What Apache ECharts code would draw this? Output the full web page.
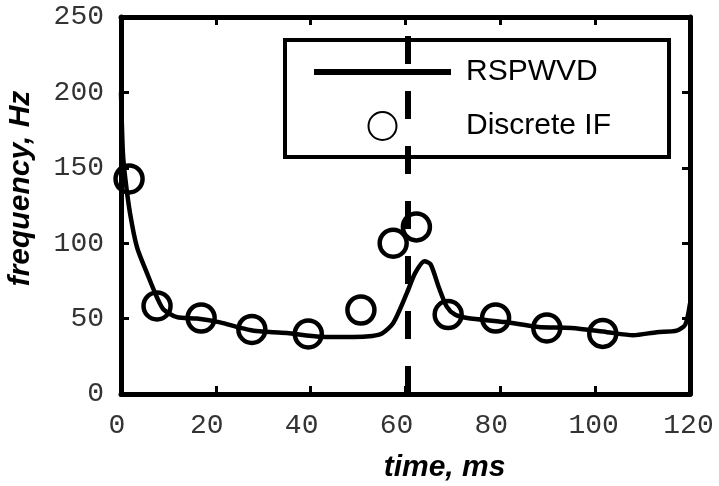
<!DOCTYPE html>
<html>
<head>
<meta charset="utf-8">
<script src="https://cdn.jsdelivr.net/npm/echarts@6/dist/echarts.min.js"></script>
<style>html,body{margin:0;padding:0;background:#fff}#c{width:719px;height:486px}</style>
</head>
<body>
<div id="c"></div>
<script>
// RSPWVD curve: [time ms, frequency Hz]
var rspwvdTime = [0, 0.4, 0.9, 1.9, 3.4, 5.5, 7.6, 9, 11.8, 16, 20.9, 25, 28, 32, 35, 42, 49, 53, 55, 57.4, 60.3, 62, 64, 65.3, 67, 68.7, 70.5, 73, 81, 88, 95, 102.5, 108, 113, 117.2, 119, 120];
var rspwvdFreq = [200, 160, 143, 120, 97, 80, 64, 56, 51, 50, 47.5, 44, 42, 41, 40.5, 38, 37.8, 38.5, 40, 47, 67, 80, 88, 86, 71, 58, 52.5, 50.4, 47.7, 44.5, 43.8, 41, 39, 41, 42, 46, 60];
// Discrete IF points
var ifTime = [1.7, 7.6, 16.9, 27.6, 39.5, 50.6, 57.4, 62.3, 69, 79, 89.8, 101.6];
var ifFreq = [142.6, 58.4, 50.4, 42.8, 39.8, 55.7, 100, 110.8, 52.7, 50.4, 43.8, 40.2];
var markerTime = 60.5;
var xTicks = [0, 20, 40, 60, 80, 100, 120];
var yTicks = [0, 50, 100, 150, 200, 250];

var lineData = rspwvdTime.map(function (t, i) { return [t, rspwvdFreq[i]]; });
var ifData = ifTime.map(function (t, i) { return [t, ifFreq[i]]; });

function tickFont() { return { fontFamily: 'Liberation Mono', fontSize: 28, color: '#333' }; }
function frame() { return { show: true, onZero: false, lineStyle: { color: '#000', width: 5 } }; }
function ticks() { return { show: true, inside: false, length: -8, lineStyle: { color: '#000', width: 3 } }; }

var chart = echarts.init(document.getElementById('c'));
chart.setOption({
  animation: false,
  backgroundColor: '#fff',
  grid: { left: 121, right: 29, top: 17, bottom: 92, containLabel: false, outerBoundsMode: 'none' },
  xAxis: [{
    type: 'value', min: xTicks[0], max: xTicks[xTicks.length - 1], interval: 20,
    position: 'bottom',
    axisLine: frame(), axisTick: ticks(), splitLine: { show: false },
    axisLabel: {
      margin: 18,
      formatter: function (v) {
        var s = String(v);
        if (s.length === 1) return '{a|' + s + '}';
        if (s.length === 2) return '{b|' + s + '}';
        return '{c|' + s + '}';
      },
      rich: {
        a: Object.assign({ padding: [0, 8, 0, 0] }, tickFont()),
        b: Object.assign({ padding: [0, 18, 0, 0] }, tickFont()),
        c: Object.assign({ padding: [0, 3, 0, 0] }, tickFont())
      }
    },
    name: 'time, ms', nameLocation: 'middle', nameGap: 59,
    nameTextStyle: { fontFamily: 'Liberation Sans', fontWeight: 'bold', fontStyle: 'italic', fontSize: 30, color: '#000', padding: [0, 0, 0, 78] }
  }, {
    type: 'value', min: xTicks[0], max: xTicks[xTicks.length - 1], interval: 20,
    position: 'top',
    axisLine: frame(), axisTick: ticks(), splitLine: { show: false }, axisLabel: { show: false }
  }],
  yAxis: [{
    type: 'value', min: yTicks[0], max: yTicks[yTicks.length - 1], interval: 50,
    position: 'left',
    axisLine: frame(), axisTick: ticks(), splitLine: { show: false },
    axisLabel: Object.assign({ margin: 17 }, tickFont()),
    name: 'frequency, Hz', nameLocation: 'middle', nameGap: 85,
    nameTextStyle: { fontFamily: 'Liberation Sans', fontWeight: 'bold', fontStyle: 'italic', fontSize: 30, color: '#000', padding: [0, 0, 0, 34] }
  }, {
    type: 'value', min: yTicks[0], max: yTicks[yTicks.length - 1], interval: 50,
    position: 'right',
    axisLine: frame(), axisTick: ticks(), splitLine: { show: false }, axisLabel: { show: false }
  }],
  legend: {
    orient: 'vertical', align: 'left',
    left: 285, top: 40,
    padding: [17, 58, 16, 26],
    itemWidth: 137, itemHeight: 28, itemGap: 24,
    backgroundColor: '#fff', borderColor: '#000', borderWidth: 4, borderRadius: 0,
    textStyle: { fontFamily: 'Liberation Sans', fontSize: 30, color: '#000', padding: [0, 0, 0, 10] },
    data: [
      { name: 'RSPWVD', lineStyle: { width: 6, color: '#000' }, itemStyle: { opacity: 0 } },
      { name: 'Discrete IF' }
    ]
  },
  series: [{
    name: 'RSPWVD', type: 'line', data: lineData, smooth: 0.25,
    showSymbol: false, symbol: 'none',
    lineStyle: { color: '#000', width: 4.5 },
    itemStyle: { color: '#000' },
    z: 2,
    markLine: {
      silent: true, symbol: ['none', 'none'], label: { show: false },
      lineStyle: { color: '#000', width: 6, type: [28, 27] },
      data: [{ xAxis: markerTime }]
    }
  }, {
    name: 'Discrete IF', type: 'scatter', data: ifData,
    symbol: 'circle', symbolSize: 27,
    itemStyle: { color: 'rgba(0,0,0,0)', borderColor: '#000', borderWidth: 4.5, opacity: 1 },
    z: 3
  }]
});
</script>
</body>
</html>
